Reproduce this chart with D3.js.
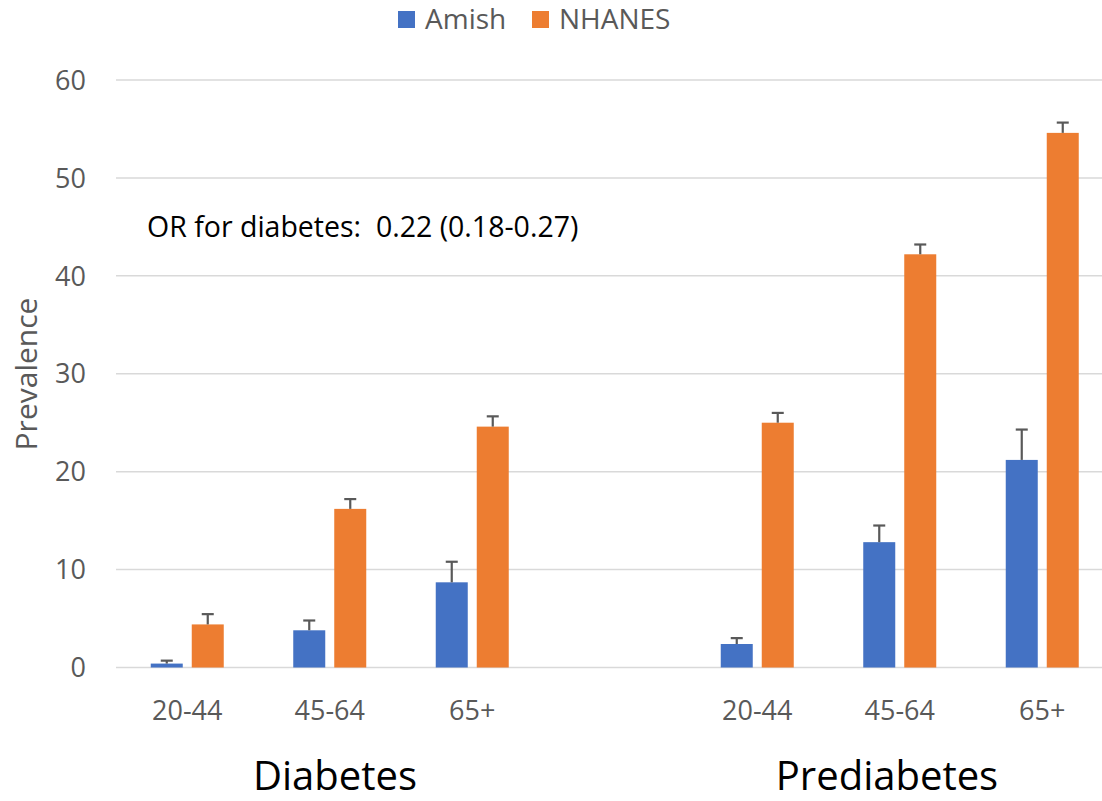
<!DOCTYPE html>
<html>
<head>
<meta charset="utf-8">
<script src="https://cdn.jsdelivr.net/npm/d3@7"></script>
<style>
  html, body { margin: 0; padding: 0; background: #fff; }
  svg { display: block; font-family: "Open Sans", sans-serif; }
</style>
</head>
<body>
<svg id="chart" width="1102" height="801"></svg>
<script>
// data
const groups = ["Diabetes", "Prediabetes"];
const ageGroups = ["20-44", "45-64", "65+"];
const seriesNames = ["Amish", "NHANES"];
const amishValues = [0.4, 3.8, 8.7, 2.4, 12.8, 21.2];
const amishErrors = [0.3, 1.0, 2.1, 0.6, 1.7, 3.1];
const nhanesValues = [4.4, 16.2, 24.6, 25.0, 42.2, 54.6];
const nhanesErrors = [1.05, 1.0, 1.05, 1.0, 1.0, 1.05];
const yTicks = [0, 10, 20, 30, 40, 50, 60];
const annotation = "OR for diabetes:  0.22 (0.18-0.27)";

const colors = { Amish: "#4472C4", NHANES: "#ED7D31" };

const svg = d3.select("#chart");

// slots: three diabetes ages, one empty slot, three prediabetes ages
const slots = [];
groups.forEach((g, gi) => {
  ageGroups.forEach(a => slots.push(g + "|" + a));
  if (gi === 0) slots.push("gap");
});

const rows = [];
groups.forEach((g, gi) => {
  ageGroups.forEach((a, ai) => {
    const i = gi * ageGroups.length + ai;
    rows.push({ slot: g + "|" + a, age: a, series: "Amish", value: amishValues[i], err: amishErrors[i] });
    rows.push({ slot: g + "|" + a, age: a, series: "NHANES", value: nhanesValues[i], err: nhanesErrors[i] });
  });
});

const x0 = d3.scaleBand().domain(slots).range([116, 1113.5]).padding(0);
const groupWidth = 73;
const x1 = d3.scaleBand().domain(seriesNames)
  .range([0, groupWidth]).paddingInner(9 / 41).paddingOuter(0);
const y = d3.scaleLinear().domain([0, 60]).range([667.5, 80]);

// gridlines
svg.append("g")
  .selectAll("line")
  .data(yTicks)
  .join("line")
  .attr("x1", 116)
  .attr("x2", 1102)
  .attr("y1", d => y(d))
  .attr("y2", d => y(d))
  .attr("stroke", "#d9d9d9")
  .attr("stroke-width", 1.5);

// y tick labels
svg.append("g")
  .selectAll("text")
  .data(yTicks)
  .join("text")
  .attr("x", 86)
  .attr("y", d => y(d))
  .attr("dy", "0.36em")
  .attr("text-anchor", "end")
  .attr("font-size", 27)
  .attr("fill", "#595959")
  .text(d => d);

// y axis title
svg.append("text")
  .attr("transform", "translate(37,374) rotate(-90)")
  .attr("text-anchor", "middle")
  .attr("font-size", 30)
  .attr("fill", "#595959")
  .text("Prevalence");

const offset = (x0.bandwidth() - groupWidth) / 2;

// bars
svg.append("g")
  .selectAll("rect")
  .data(rows)
  .join("rect")
  .attr("x", d => x0(d.slot) + offset + x1(d.series))
  .attr("y", d => y(d.value))
  .attr("width", x1.bandwidth())
  .attr("height", d => y(0) - y(d.value))
  .attr("fill", d => colors[d.series]);

// error bars (upper only)
const errG = svg.append("g").attr("stroke", "#595959").attr("stroke-width", 2.2);
rows.forEach(d => {
  const cx = x0(d.slot) + offset + x1(d.series) + x1.bandwidth() / 2;
  errG.append("line")
    .attr("x1", cx).attr("x2", cx)
    .attr("y1", y(d.value)).attr("y2", y(d.value + d.err));
  errG.append("line")
    .attr("x1", cx - 6).attr("x2", cx + 6)
    .attr("y1", y(d.value + d.err)).attr("y2", y(d.value + d.err));
});

// age labels
svg.append("g")
  .selectAll("text")
  .data(slots.filter(s => s !== "gap"))
  .join("text")
  .attr("x", d => x0(d) + x0.bandwidth() / 2)
  .attr("y", 720)
  .attr("text-anchor", "middle")
  .attr("font-size", 27)
  .attr("fill", "#595959")
  .text(d => d.split("|")[1]);

// group labels
const groupLabelX = { Diabetes: 335, Prediabetes: 887 };
svg.append("g")
  .selectAll("text")
  .data(groups)
  .join("text")
  .attr("x", d => groupLabelX[d])
  .attr("y", 790)
  .attr("text-anchor", "middle")
  .attr("font-size", 40)
  .attr("fill", "#000")
  .text(d => d);

// annotation
svg.append("text")
  .attr("x", 147)
  .attr("y", 237)
  .attr("font-size", 28.5)
  .attr("fill", "#000")
  .attr("xml:space", "preserve")
  .style("white-space", "pre")
  .text(annotation);

// legend
const legend = svg.append("g");
const legendItems = [
  { name: "Amish", x: 398 },
  { name: "NHANES", x: 532 }
];
legendItems.forEach(it => {
  legend.append("rect")
    .attr("x", it.x).attr("y", 11)
    .attr("width", 17).attr("height", 17)
    .attr("fill", colors[it.name]);
  legend.append("text")
    .attr("x", it.x + 27).attr("y", 29)
    .attr("font-size", 28)
    .attr("fill", "#595959")
    .text(it.name);
});
</script>
</body>
</html>
